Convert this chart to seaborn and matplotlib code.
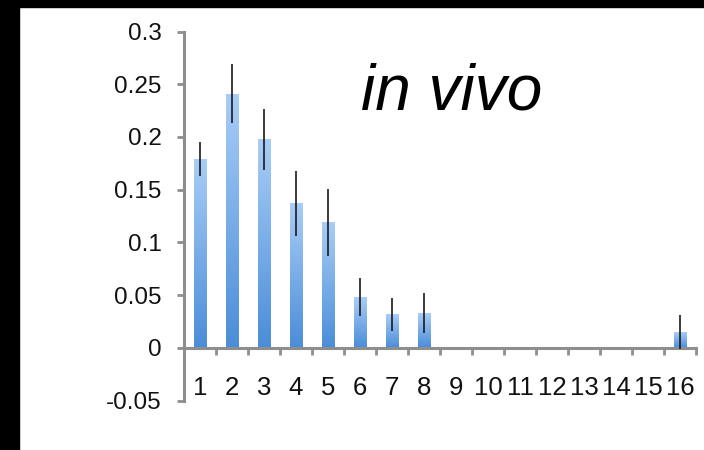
import numpy as np
import pandas as pd
import matplotlib
matplotlib.use("Agg")
import matplotlib.pyplot as plt
import seaborn as sns
from matplotlib.colors import LinearSegmentedColormap
from matplotlib.patches import Rectangle
from matplotlib.ticker import FixedLocator

# Data: fraction per category with error half-widths
categories = [str(i) for i in range(1, 17)]
values = [0.179, 0.241, 0.198, 0.137, 0.119, 0.048, 0.032, 0.033,
          0, 0, 0, 0, 0, 0, 0, 0.015]
errors = [0.016, 0.028, 0.029, 0.031, 0.032, 0.018, 0.0155, 0.019,
          0, 0, 0, 0, 0, 0, 0, 0.016]
y_ticks = [-0.05, 0, 0.05, 0.1, 0.15, 0.2, 0.25, 0.3]
y_tick_labels = ["-0.05", "0", "0.05", "0.1", "0.15", "0.2", "0.25", "0.3"]
title_text = "in vivo"

df = pd.DataFrame({"cat": categories, "val": values})

sns.set_theme(style="white")
plt.rcParams["font.family"] = ["Liberation Sans", "DejaVu Sans"]

fig = plt.figure(figsize=(7.04, 4.5), dpi=100)
fig.patch.set_facecolor("white")

# black border strips on the top and left edges
fig.add_artist(Rectangle((0, 0), 19 / 704, 1, transform=fig.transFigure,
                         color="black", zorder=0))
fig.add_artist(Rectangle((0, 1 - 7 / 450), 1, 7 / 450, transform=fig.transFigure,
                         color="black", zorder=0))

ax = fig.add_axes([184 / 704, (450 - 400.7) / 450, 512 / 704, 369.2 / 450])
ax.set_facecolor("none")

sns.barplot(data=df, x="cat", y="val", order=categories, width=0.4,
            color="#7fb0ea", errorbar=None, ax=ax, zorder=2)

# gradient fill for every bar
cmap = LinearSegmentedColormap.from_list("barfill", ["#4a8dd8", "#a9cdf7"])
grad = np.linspace(0, 1, 256).reshape(-1, 1)
for bar in ax.patches:
    x0, y0 = bar.get_x(), bar.get_y()
    w, h = bar.get_width(), bar.get_height()
    if h <= 0:
        continue
    im = ax.imshow(grad, cmap=cmap, origin="lower", aspect="auto",
                   extent=(x0, x0 + w, y0, y0 + h), zorder=2.1)
    im.set_clip_path(bar)
    bar.set_facecolor("none")
    bar.set_edgecolor("none")

# error bars (only where a value exists)
xs = np.arange(len(categories))
mask = np.array(errors) > 0
ax.errorbar(xs[mask], np.array(values)[mask], yerr=np.array(errors)[mask],
            fmt="none", ecolor="#1a1a1a", elinewidth=1.2, capsize=0, zorder=3)

ax.set_xlim(-0.5, len(categories) - 0.5)
ax.set_ylim(-0.05, 0.3)
ax.set_yticks(y_ticks)
ax.set_yticklabels(y_tick_labels)
ax.set_xlabel("")
ax.set_ylabel("")

axis_grey = "#8e8e8e"
for side in ["top", "right"]:
    ax.spines[side].set_visible(False)
ax.spines["left"].set_color(axis_grey)
ax.spines["left"].set_linewidth(2.2)
ax.spines["bottom"].set_color(axis_grey)
ax.spines["bottom"].set_linewidth(2.2)
ax.spines["bottom"].set_position(("data", 0))

ax.tick_params(axis="y", which="major", direction="out", length=5, width=2,
               color=axis_grey, labelsize=17.5, pad=11, left=True)
ax.tick_params(axis="x", which="major", length=0, labelsize=18.5, pad=20,
               bottom=True)
ax.xaxis.set_minor_locator(FixedLocator(np.arange(0.5, len(categories), 1.0)))
ax.tick_params(axis="x", which="minor", direction="out", length=5, width=2,
               color=axis_grey, bottom=True)
for lbl in ax.get_xticklabels() + ax.get_yticklabels():
    lbl.set_color("#111111")

ax.text(0.345, 0.79, title_text, transform=ax.transAxes, fontsize=46,
        fontstyle="italic", color="black", ha="left", va="baseline")

fig.savefig("out.png", dpi=100, facecolor="white")
